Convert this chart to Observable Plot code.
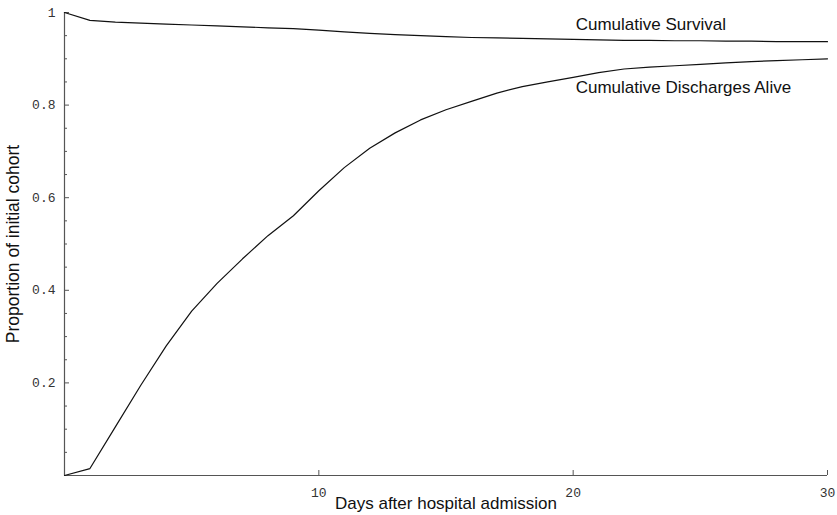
<!DOCTYPE html>
<html><head><meta charset="utf-8">
<script src="https://cdn.jsdelivr.net/npm/d3@7"></script>
<script src="https://cdn.jsdelivr.net/npm/@observablehq/plot@0.6"></script>
<style>body{margin:0;background:#fff}</style>
</head><body><div id="chart"></div>
<script>
const days = [0,1,2,3,4,5,6,7,8,9,10,11,12,13,14,15,16,17,18,19,20,21,22,23,24,25,26,27,28,29,30];
const survival = [1,0.983,0.979,0.977,0.975,0.973,0.971,0.969,0.967,0.965,0.962,0.958,0.955,0.952,0.950,0.948,0.946,0.945,0.944,0.943,0.942,0.941,0.940,0.940,0.939,0.939,0.938,0.938,0.937,0.937,0.937];
const discharges = [0,0.015,0.105,0.195,0.28,0.355,0.415,0.468,0.518,0.561,0.615,0.665,0.707,0.74,0.768,0.79,0.808,0.826,0.84,0.85,0.86,0.87,0.878,0.882,0.885,0.888,0.891,0.894,0.896,0.898,0.90];
const seriesNames = ["Cumulative Survival", "Cumulative Discharges Alive"];
const xTicks = [10, 20, 30];
const yTicks = [0.2, 0.4, 0.6, 0.8, 1];
const yMinorTicks = [0.05,0.1,0.15,0.25,0.3,0.35,0.45,0.5,0.55,0.65,0.7,0.75,0.85,0.9,0.95];
const xTitle = "Days after hospital admission";
const yTitle = "Proportion of initial cohort";

const rows = [
  ...days.map((d, i) => ({day: d, value: survival[i], series: seriesNames[0]})),
  ...days.map((d, i) => ({day: d, value: discharges[i], series: seriesNames[1]}))
];

const sans = "'Liberation Sans', Arial, sans-serif";
const axisColor = "#555";

const chart = Plot.plot({
  width: 837,
  height: 515,
  marginLeft: 64,
  marginRight: 10,
  marginTop: 12,
  marginBottom: 40,
  style: {fontFamily: "'Liberation Mono', 'Courier New', monospace", fontSize: "13px", color: "#333", background: "#fff"},
  x: {domain: [0, 30], ticks: xTicks, tickSize: 0, tickPadding: 12, label: null, tickFormat: d => String(d)},
  y: {domain: [0, 1], ticks: yTicks, tickSize: 0, tickPadding: 9, label: null, tickFormat: d => String(d)},
  marks: [
    Plot.ruleX([0], {y1: 0, y2: 1, stroke: axisColor, strokeWidth: 1.2}),
    Plot.ruleY([0], {x1: 0, x2: 30, stroke: axisColor, strokeWidth: 1.2}),
    Plot.ruleY(yTicks, {y: d => d, x1: 0, x2: 0, insetLeft: 0, insetRight: -5, stroke: axisColor}),
    Plot.ruleY(yMinorTicks, {y: d => d, x1: 0, x2: 0, insetLeft: 0, insetRight: -3, stroke: axisColor}),
    Plot.ruleX(xTicks, {x: d => d, y1: 0, y2: 0, insetTop: 0, insetBottom: 5, stroke: axisColor}),
    Plot.line(rows, {x: "day", y: "value", z: "series", stroke: "#111", strokeWidth: 1.2}),
    Plot.text([seriesNames[0]], {x: 20.1, y: 0.974, text: d => d, textAnchor: "start", fontFamily: sans, fontSize: 17, fill: "#111"}),
    Plot.text([seriesNames[1]], {x: 20.1, y: 0.837, text: d => d, textAnchor: "start", fontFamily: sans, fontSize: 17, fill: "#111"}),
    Plot.text([xTitle], {frameAnchor: "bottom", lineAnchor: "middle", textAnchor: "middle", dy: 28, text: d => d, fontFamily: sans, fontSize: 17, fill: "#111"}),
    Plot.text([yTitle], {frameAnchor: "left", lineAnchor: "middle", textAnchor: "middle", rotate: -90, dx: -51, text: d => d, fontFamily: sans, fontSize: 17.5, fill: "#111"})
  ]
});
document.getElementById("chart").appendChild(chart);
</script>
</body></html>
